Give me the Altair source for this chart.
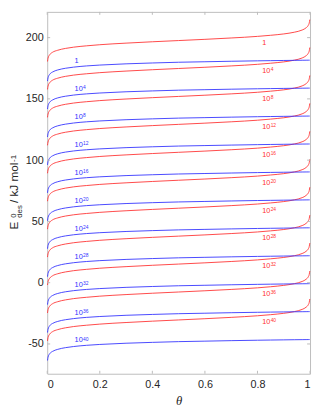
import altair as alt
import pandas as pd

# ---- data ----
theta = [0.001, 0.003, 0.01, 0.02, 0.04, 0.07, 0.1, 0.15, 0.2, 0.3, 0.4, 0.5,
         0.6, 0.7, 0.8, 0.85, 0.9, 0.94, 0.97, 0.985, 0.993, 0.997, 0.999]
# shape of the blue curves relative to their value at theta = 1 (kJ/mol)
blue_shape = [-17.1, -14.4, -11.4, -9.7, -8.0, -6.6, -5.7, -4.7, -4.0, -3.0, -2.3, -1.7,
              -1.3, -0.9, -0.55, -0.4, -0.26, -0.15, -0.08, -0.04, -0.02, -0.01, 0.0]
# shape of the red curves relative to their value at theta = 0.5 (kJ/mol)
red_shape = [-17.1, -14.4, -11.4, -9.6, -7.9, -6.4, -5.4, -4.3, -3.4, -2.1, -1.0, 0.0,
             1.0, 2.1, 3.4, 4.3, 5.4, 6.8, 8.6, 10.4, 12.3, 14.4, 17.1]
blue_levels = [181.6, 158.8, 136.0, 113.2, 90.4, 67.6, 44.8, 22.0, -0.8, -23.6, -46.4]
red_levels = [197.6, 174.8, 152.0, 129.2, 106.4, 83.6, 60.8, 38.0, 15.2, -7.6, -30.4]
label_base = ["1", "10", "10", "10", "10", "10", "10", "10", "10", "10", "10"]
label_exp = ["", "4", "8", "12", "16", "20", "24", "28", "32", "36", "40"]
x_ticks = [0, 0.2, 0.4, 0.6, 0.8, 1]
y_ticks = [-50, 0, 50, 100, 150, 200]

W, H = 268, 369
GRAY = "#bdbdbd"
TXT = "#262626"
BLUE = "#3333ff"
RED = "#ff3333"
FONT = "Liberation Sans"

rows = []
for i, lvl in enumerate(blue_levels):
    for t, s in zip(theta, blue_shape):
        rows.append({"theta": t, "E": lvl + s, "curve": f"b{i}", "family": "blue"})
for i, lvl in enumerate(red_levels):
    for t, s in zip(theta, red_shape):
        rows.append({"theta": t, "E": lvl + s, "curve": f"r{i}", "family": "red"})
lines = pd.DataFrame(rows)

blue_lab = pd.DataFrame({"E": blue_levels, "base": label_base, "exp": label_exp})
red_lab = pd.DataFrame({"E": red_levels, "base": label_base, "exp": label_exp})

xs = alt.Scale(domain=[0, 1], nice=False, zero=False)
ys = alt.Scale(domain=[-74.3, 221], nice=False, zero=False)

x_axis = alt.Axis(values=x_ticks, labelExpr="datum.value", ticks=False, domain=False, grid=False,
                  labelPadding=5, labelFont=FONT, labelFontSize=11, labelColor=TXT,
                  title="θ", titleFont="Liberation Serif", titleFontStyle="italic",
                  titleFontWeight="normal", titleFontSize=13, titleColor=TXT, titlePadding=5)
y_axis = alt.Axis(values=y_ticks, labelExpr="datum.value", ticks=False, domain=False, grid=False,
                  labelPadding=4, labelFont=FONT, labelFontSize=11, labelColor=TXT, title="")

X = lambda f: alt.X(f, scale=xs, axis=x_axis)
Y = lambda f: alt.Y(f, scale=ys, axis=y_axis)

red_lines = alt.Chart(lines).transform_filter("datum.family == 'red'").mark_line(
    color=RED, strokeWidth=0.9, interpolate="monotone").encode(
    x=X("theta:Q"), y=Y("E:Q"), detail="curve:N", order="theta:Q")
blue_lines = alt.Chart(lines).transform_filter("datum.family == 'blue'").mark_line(
    color=BLUE, strokeWidth=0.9, interpolate="monotone").encode(
    x=X("theta:Q"), y=Y("E:Q"), detail="curve:N", order="theta:Q")

def labels(df, xpos, color, dy):
    base = alt.Chart(df).mark_text(align="left", baseline="middle", font=FONT, fontSize=7.5,
                                   color=color, dy=dy).encode(
        x=alt.X(datum=xpos, scale=xs, axis=x_axis),
        y=Y("E:Q"), text="base:N")
    exp = alt.Chart(df).mark_text(align="left", baseline="middle", font=FONT, fontSize=5,
                                  color=color, dx=8.6, dy=dy - 2).encode(
        x=alt.X(datum=xpos, scale=xs, axis=x_axis),
        y=Y("E:Q"), text="exp:N")
    return [base, exp]

tx = pd.DataFrame({"v": x_ticks})
ty = pd.DataFrame({"v": y_ticks})
tick_bottom = alt.Chart(tx).mark_rule(color=GRAY).encode(
    x=X("v:Q"), y=alt.value(H), y2=alt.value(H - 3))
tick_top = alt.Chart(tx).mark_rule(color=GRAY).encode(
    x=X("v:Q"), y=alt.value(0), y2=alt.value(3))
tick_left = alt.Chart(ty).mark_rule(color=GRAY).encode(
    y=Y("v:Q"), x=alt.value(0), x2=alt.value(3))
tick_right = alt.Chart(ty).mark_rule(color=GRAY).encode(
    y=Y("v:Q"), x=alt.value(W), x2=alt.value(W - 3))

def ytitle(txt, size, xv, yv):
    return alt.Chart(pd.DataFrame({"t": [txt]})).mark_text(
        angle=270, align="left", baseline="alphabetic", font=FONT, fontSize=size, color=TXT).encode(
        text="t:N", x=alt.value(xv), y=alt.value(yv))

title_parts = [
    ytitle("E", 12, -29.5, 222),
    ytitle("0", 8, -32, 210),
    ytitle("des", 8, -26, 210),
    ytitle("/ kJ mol", 12, -29.5, 195),
    ytitle("-1", 8, -32, 153),
]

chart = alt.layer(
    red_lines, blue_lines,
    *labels(blue_lab, 0.104, BLUE, 1),
    *labels(red_lab, 0.818, RED, 2.4),
    tick_bottom, tick_top, tick_left, tick_right,
    *title_parts,
).properties(
    width=W, height=H,
    padding={"left": 40, "top": 0, "right": 2, "bottom": 32},
    autosize=alt.AutoSizeParams(type="none"),
).configure_view(stroke=GRAY, strokeWidth=1)

chart.save("out.html", embed_options={"renderer": "svg", "actions": False})
